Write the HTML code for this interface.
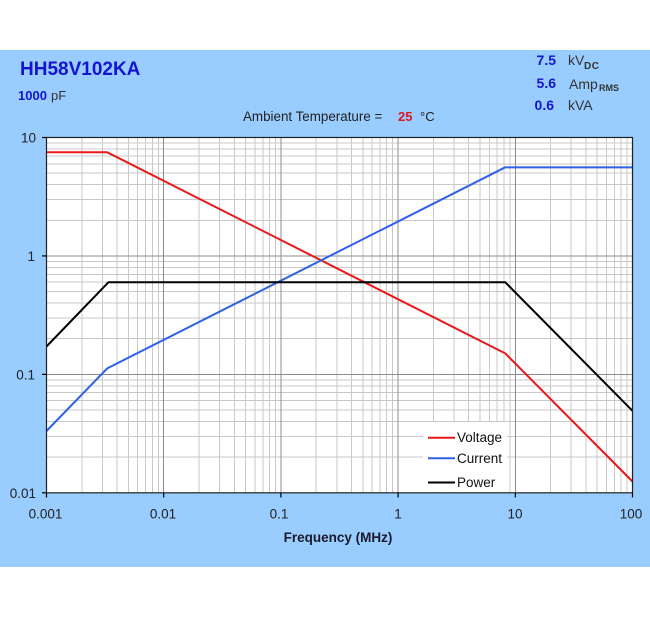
<!DOCTYPE html>
<html>
<head>
<meta charset="utf-8">
<style>
html,body{margin:0;padding:0;background:#fff;}
svg{display:block;}
text{font-family:"Liberation Sans",Arial,sans-serif;}
</style>
</head>
<body>
<svg width="650" height="617" viewBox="0 0 650 617" xmlns="http://www.w3.org/2000/svg">
<rect x="0" y="0" width="650" height="617" fill="#ffffff"/>
<rect x="0" y="50" width="650" height="517" fill="#99ccff"/>

<text x="20" y="75" font-size="19" font-weight="bold" fill="#1414d2">HH58V102KA</text>
<text x="18" y="100" font-size="13" font-weight="bold" fill="#1414d2">1000</text>
<text x="51" y="100" font-size="13" fill="#333">pF</text>

<text x="556" y="65" font-size="14" font-weight="bold" fill="#1414d2" text-anchor="end">7.5</text>
<text x="568" y="65" font-size="14" fill="#333">kV</text>
<text x="584" y="69" font-size="10" font-weight="bold" fill="#333" letter-spacing="0.5">DC</text>

<text x="556" y="88" font-size="14" font-weight="bold" fill="#1414d2" text-anchor="end">5.6</text>
<text x="569" y="89" font-size="14" fill="#333">Amp</text>
<text x="599" y="91" font-size="9" font-weight="bold" fill="#333">RMS</text>

<text x="554" y="110" font-size="14" font-weight="bold" fill="#1414d2" text-anchor="end">0.6</text>
<text x="568" y="110" font-size="14" fill="#333">kVA</text>

<text x="243" y="121" font-size="13.4" fill="#222">Ambient Temperature =</text>
<text x="398" y="121" font-size="13" font-weight="bold" fill="#e0141e">25</text>
<text x="420" y="121" font-size="13" fill="#222">°C</text>

<rect x="46.5" y="137.5" width="586" height="355.3" fill="#ffffff"/>

<g stroke="#c8c8c8" stroke-width="1" shape-rendering="crispEdges">
<line x1="81.78" y1="137.5" x2="81.78" y2="492.8"/>
<line x1="102.42" y1="137.5" x2="102.42" y2="492.8"/>
<line x1="117.06" y1="137.5" x2="117.06" y2="492.8"/>
<line x1="128.42" y1="137.5" x2="128.42" y2="492.8"/>
<line x1="137.7" y1="137.5" x2="137.7" y2="492.8"/>
<line x1="145.55" y1="137.5" x2="145.55" y2="492.8"/>
<line x1="152.34" y1="137.5" x2="152.34" y2="492.8"/>
<line x1="158.34" y1="137.5" x2="158.34" y2="492.8"/>
<line x1="198.98" y1="137.5" x2="198.98" y2="492.8"/>
<line x1="219.62" y1="137.5" x2="219.62" y2="492.8"/>
<line x1="234.26" y1="137.5" x2="234.26" y2="492.8"/>
<line x1="245.62" y1="137.5" x2="245.62" y2="492.8"/>
<line x1="254.9" y1="137.5" x2="254.9" y2="492.8"/>
<line x1="262.75" y1="137.5" x2="262.75" y2="492.8"/>
<line x1="269.54" y1="137.5" x2="269.54" y2="492.8"/>
<line x1="275.54" y1="137.5" x2="275.54" y2="492.8"/>
<line x1="316.18" y1="137.5" x2="316.18" y2="492.8"/>
<line x1="336.82" y1="137.5" x2="336.82" y2="492.8"/>
<line x1="351.46" y1="137.5" x2="351.46" y2="492.8"/>
<line x1="362.82" y1="137.5" x2="362.82" y2="492.8"/>
<line x1="372.1" y1="137.5" x2="372.1" y2="492.8"/>
<line x1="379.95" y1="137.5" x2="379.95" y2="492.8"/>
<line x1="386.74" y1="137.5" x2="386.74" y2="492.8"/>
<line x1="392.74" y1="137.5" x2="392.74" y2="492.8"/>
<line x1="433.38" y1="137.5" x2="433.38" y2="492.8"/>
<line x1="454.02" y1="137.5" x2="454.02" y2="492.8"/>
<line x1="468.66" y1="137.5" x2="468.66" y2="492.8"/>
<line x1="480.02" y1="137.5" x2="480.02" y2="492.8"/>
<line x1="489.3" y1="137.5" x2="489.3" y2="492.8"/>
<line x1="497.15" y1="137.5" x2="497.15" y2="492.8"/>
<line x1="503.94" y1="137.5" x2="503.94" y2="492.8"/>
<line x1="509.94" y1="137.5" x2="509.94" y2="492.8"/>
<line x1="550.58" y1="137.5" x2="550.58" y2="492.8"/>
<line x1="571.22" y1="137.5" x2="571.22" y2="492.8"/>
<line x1="585.86" y1="137.5" x2="585.86" y2="492.8"/>
<line x1="597.22" y1="137.5" x2="597.22" y2="492.8"/>
<line x1="606.5" y1="137.5" x2="606.5" y2="492.8"/>
<line x1="614.35" y1="137.5" x2="614.35" y2="492.8"/>
<line x1="621.14" y1="137.5" x2="621.14" y2="492.8"/>
<line x1="627.14" y1="137.5" x2="627.14" y2="492.8"/>
<line x1="46.5" y1="457.15" x2="632.5" y2="457.15"/>
<line x1="46.5" y1="436.3" x2="632.5" y2="436.3"/>
<line x1="46.5" y1="421.5" x2="632.5" y2="421.5"/>
<line x1="46.5" y1="410.02" x2="632.5" y2="410.02"/>
<line x1="46.5" y1="400.64" x2="632.5" y2="400.64"/>
<line x1="46.5" y1="392.71" x2="632.5" y2="392.71"/>
<line x1="46.5" y1="385.85" x2="632.5" y2="385.85"/>
<line x1="46.5" y1="379.79" x2="632.5" y2="379.79"/>
<line x1="46.5" y1="338.72" x2="632.5" y2="338.72"/>
<line x1="46.5" y1="317.87" x2="632.5" y2="317.87"/>
<line x1="46.5" y1="303.07" x2="632.5" y2="303.07"/>
<line x1="46.5" y1="291.59" x2="632.5" y2="291.59"/>
<line x1="46.5" y1="282.21" x2="632.5" y2="282.21"/>
<line x1="46.5" y1="274.28" x2="632.5" y2="274.28"/>
<line x1="46.5" y1="267.42" x2="632.5" y2="267.42"/>
<line x1="46.5" y1="261.36" x2="632.5" y2="261.36"/>
<line x1="46.5" y1="220.29" x2="632.5" y2="220.29"/>
<line x1="46.5" y1="199.44" x2="632.5" y2="199.44"/>
<line x1="46.5" y1="184.64" x2="632.5" y2="184.64"/>
<line x1="46.5" y1="173.16" x2="632.5" y2="173.16"/>
<line x1="46.5" y1="163.78" x2="632.5" y2="163.78"/>
<line x1="46.5" y1="155.85" x2="632.5" y2="155.85"/>
<line x1="46.5" y1="148.99" x2="632.5" y2="148.99"/>
<line x1="46.5" y1="142.93" x2="632.5" y2="142.93"/>
</g>
<g stroke="#8c8c8c" stroke-width="1" shape-rendering="crispEdges">
<line x1="163.7" y1="137.5" x2="163.7" y2="492.8"/>
<line x1="280.9" y1="137.5" x2="280.9" y2="492.8"/>
<line x1="398.1" y1="137.5" x2="398.1" y2="492.8"/>
<line x1="515.3" y1="137.5" x2="515.3" y2="492.8"/>
<line x1="46.5" y1="255.94" x2="632.5" y2="255.94"/>
<line x1="46.5" y1="374.37" x2="632.5" y2="374.37"/>
</g>

<rect x="423" y="422" width="84" height="70" fill="#ffffff"/>

<g fill="none" stroke-width="2" stroke-linejoin="round">
<polyline stroke="#e81818" points="46.5,152.3 107.27,152.3 505.2,353.35 632.5,481.5"/>
<polyline stroke="#2e62e6" points="46.5,431 107.27,368.37 505.2,167.32 632.5,167.32"/>
<polyline stroke="#000000" points="46.5,346.5 108.5,282.2 505.2,282.2 632.5,410.84"/>
</g>

<rect x="46.5" y="137.5" width="586" height="355.3" fill="none" stroke="#222" stroke-width="1.2"/>
<g stroke="#000" stroke-width="1.2">
<line x1="42" y1="137.5" x2="46.5" y2="137.5"/>
<line x1="42" y1="255.94" x2="46.5" y2="255.94"/>
<line x1="42" y1="374.37" x2="46.5" y2="374.37"/>
<line x1="42" y1="492.8" x2="46.5" y2="492.8"/>
<line x1="46.5" y1="492.8" x2="46.5" y2="497.5"/>
<line x1="163.7" y1="492.8" x2="163.7" y2="497.5"/>
<line x1="280.9" y1="492.8" x2="280.9" y2="497.5"/>
<line x1="398.1" y1="492.8" x2="398.1" y2="497.5"/>
<line x1="515.3" y1="492.8" x2="515.3" y2="497.5"/>
<line x1="632.5" y1="492.8" x2="632.5" y2="497.5"/>
</g>

<line x1="428" y1="437.7" x2="455" y2="437.7" stroke="#e81818" stroke-width="2"/>
<line x1="428" y1="458.3" x2="455" y2="458.3" stroke="#2e62e6" stroke-width="2"/>
<line x1="428" y1="482.5" x2="455" y2="482.5" stroke="#000" stroke-width="2"/>
<text x="457" y="442" font-size="13.5" fill="#111">Voltage</text>
<text x="457" y="463" font-size="13.5" fill="#111">Current</text>
<text x="457" y="487" font-size="13.5" fill="#111">Power</text>

<g font-size="13.5" fill="#222" text-anchor="end">
<text x="36" y="142.5">10</text>
<text x="35" y="261">1</text>
<text x="35" y="379.5">0.1</text>
<text x="36" y="498">0.01</text>
</g>
<g font-size="13.5" fill="#222" text-anchor="middle">
<text x="45.5" y="518.5">0.001</text>
<text x="163" y="518.5">0.01</text>
<text x="279" y="518.5">0.1</text>
<text x="398" y="518.5">1</text>
<text x="515" y="518.5">10</text>
<text x="631" y="518.5">100</text>
</g>
<text x="338" y="542" font-size="13.5" font-weight="bold" fill="#1a1a2a" text-anchor="middle">Frequency (MHz)</text>
</svg>
</body>
</html>
